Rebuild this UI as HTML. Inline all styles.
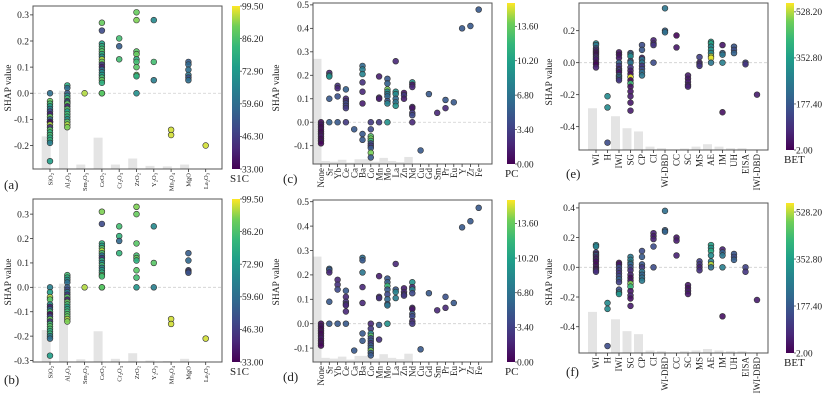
<!DOCTYPE html>
<html><head><meta charset="utf-8"><style>
body{margin:0;background:#fff}
svg{display:block;font-family:"Liberation Serif",serif}
</style></head><body>
<svg id="c" width="826" height="402" viewBox="0 0 826 402"></svg>
<script>
// ---------- DATA ----------
const oxCats = ["SiO|2","Al|2|O|3","Sm|2|O|3","CeO|2","Cr|2|O|3","ZrO|2","Y|2|O|3","Mn|3|O|4","MgO","La|2|O|3"];
const aY = [[0,-0.03,-0.04,-0.05,-0.06,-0.07,-0.08,-0.09,-0.1,-0.11,-0.11,-0.12,-0.13,-0.14,-0.15,-0.16,-0.17,-0.18,-0.19,-0.26],
 [0.03,0.02,0,-0.01,-0.02,-0.03,-0.035,-0.04,-0.05,-0.06,-0.07,-0.08,-0.09,-0.1,-0.11,-0.12,-0.13],
 [0],
 [0.27,0.24,0.19,0.18,0.17,0.16,0.15,0.14,0.13,0.12,0.11,0.1,0.09,0.08,0.07,0.06,0.05,0.04,0,0],
 [0.21,0.18,0.13],
 [0.31,0.28,0.16,0.15,0.13,0.12,0.1,0.07,0.065,0],
 [0.28,0.12,0.05],[-0.14,-0.16],[0.12,0.11,0.09,0.07,0.06,0.05],[-0.2]];
const aC = [[60,90,85,75,65,50,40,90,55,70,35,95,45,88,80,85,78,82,65,75],
 [80,60,55,70,85,45,60,90,40,88,75,85,80,70,90,95,92],
 [95],
 [90,50,75,80,85,88,80,70,95,90,45,40,60,70,75,85,90,80,90,88],
 [85,55,85],[90,92,88,90,80,85,88,90,80,70],[68,85,65],[97,97],[55,58,60,62,52,60],[97]];
const aBars = [-0.165,0.01,-0.273,-0.17,-0.273,-0.25,-0.278,-0.28,-0.273,-0.29];
const bY = [[0,-0.02,-0.04,-0.05,-0.07,-0.08,-0.09,-0.1,-0.11,-0.12,-0.13,-0.14,-0.15,-0.16,-0.17,-0.18,-0.19,-0.2,-0.21,-0.28],
 [0.05,0.04,0.03,0.02,0,-0.01,-0.02,-0.03,-0.04,-0.05,-0.06,-0.07,-0.08,-0.09,-0.1,-0.11,-0.12,-0.13,-0.14],
 [0],
 [0.31,0.26,0.18,0.17,0.16,0.15,0.14,0.13,0.12,0.11,0.1,0.09,0.08,0.07,0.06,0.05,0.045,0,0],
 [0.25,0.21,0.19,0.14],[0.33,0.3,0.18,0.13,0.12,0.11,0.07,0.04,0],[0.25,0.1,0],[-0.13,-0.15],[0.14,0.11,0.07,0.065,0.06],[-0.21]];
const bC = [[65,75,95,88,70,40,60,85,35,50,90,45,85,88,85,80,82,65,60,75],
 [85,80,70,60,55,50,65,45,88,40,90,85,75,80,85,88,90,95,92],
 [95],
 [92,50,80,75,88,95,85,60,45,80,70,85,65,75,80,90,85,90,88],
 [85,82,58,82],[92,90,88,85,90,80,88,85,72],[68,88,65],[97,97],[55,58,50,45,52],[97]];
const bBars = [-0.175,0.015,-0.295,-0.18,-0.293,-0.27,-0.3,-0.302,-0.293,-0.306];

const elCats = ["None","Sr","Yb","Ce","Ca","Ba","Co","Mn","Mo","La","Zn","Nd","Cu","Gd","Sm","Pr","Eu","Y","Zr","Fe"];
const cY = [[0,-0.01,-0.02,-0.03,-0.04,-0.05,-0.06,-0.07,-0.08,-0.09],
 [0.21,0.2,0.195,0.1,0],[0.155,0.145,0.11,0],[0.14,0.1,0.09,0.08,0.07,0.06,0],[-0.03],
 [0.24,0.225,0.205,0.17,0.13,0.08,-0.05,-0.075],
 [0,-0.03,-0.06,-0.07,-0.08,-0.09,-0.1,-0.11,-0.13,-0.15],
 [0.195,0.105,0.1,0],[0.185,0.165,0.14,0.13,0.12,0.11,0.09,0.08,0],
 [0.26,0.13,0.12,0.1,0.085,0.07],[0.125,0.115,0.1],
 [0.17,0.16,0.15,0.065,0.06,0.04,0.03,0],[-0.12],[0.12],[0.04],[0.095,0.06],[0.085],[0.4],[0.41],[0.48]];
const cC = [[0.5,1,0.3,0.8,0.2,0.6,1.2,0.4,0.7,0.3],
 [2,8,9,5,5.5],[2.5,2,4.5,5],[5.5,2,2.5,4,3.5,3,3],[5],
 [6,7.5,8,2.5,2,1.5,5,5],
 [3,4,13,14,12,4,3,5,14,5],
 [1.5,2,1.5,3],[5,5.5,14,9,7,6,5,8,9],
 [2,9,8.5,6,7,9],[1,3,1.5],
 [9,1,2,2,1,3,4,2],[5],[5],[2],[5,2],[5],[5],[5],[5]];
const cBars = [0.27,-0.165,-0.168,-0.16,-0.172,-0.158,-0.158,-0.168,-0.152,-0.165,-0.17,-0.148,-0.178,-0.178,-0.178,-0.178,-0.178,-0.178,-0.178,-0.178];
const dY = [[0,-0.01,-0.02,-0.03,-0.04,-0.05,-0.06,-0.07,-0.08,-0.09],
 [0.225,0.22,0.21,0.09,0],[0.18,0.16,0.14,0],[0.135,0.11,0.09,0.08,0.075,0.05,0],[-0.11],
 [0.27,0.26,0.21,0.15,0.085,-0.04,-0.07],
 [0,-0.02,-0.04,-0.05,-0.06,-0.07,-0.08,-0.09,-0.1,-0.11,-0.12,-0.13],
 [0.195,0.11,0.105,-0.005,-0.065],[0.185,0.17,0.155,0.14,0.12,0.1,0.08,0.075,0],
 [0.245,0.14,0.13,0.105],[0.145,0.13,0.12,0.115],
 [0.17,0.15,0.14,0.125,0.065,0.06,0.04,0.03,0.01,0],[-0.105],[0.125],[0.055],[0.11,0.065],[0.085],[0.395],[0.42],[0.475]];
const dC = [[0.5,1,0.3,0.8,0.2,0.6,1.2,0.4,0.7,0.3],
 [6,5,2,5,5],[2,2.5,4,5],[5,2,2.5,3.5,2,2,5],[5],
 [6.5,5,7,2,2,5,5],
 [2,3,8,13,4,5,3,5,6,14,5,5],
 [1.5,2,2.5,5,2.5],[5,5.5,12,5,4,6,5,7,9],
 [2,5,8,7.5],[1.5,2,2.5,3],
 [9,2,8,4,2,1,5,4,2,3],[5],[5],[2],[4.5,2],[5],[5],[5],[5]];
const dBars = [0.275,-0.14,-0.143,-0.135,-0.147,-0.132,-0.132,-0.143,-0.125,-0.14,-0.145,-0.123,-0.157,-0.157,-0.157,-0.157,-0.157,-0.157,-0.157,-0.157];

const mCats = ["WI","H","IWI","SG","CP","CI","WI-DBD","CC","SC","MS","AE","IM","UH","EISA","IWI-DBD"];
const eY = [[0.12,0.11,0.09,0.08,0.07,0.06,0.05,0.04,0.03,0.02,0,-0.01,-0.03],
 [-0.21,-0.28,-0.5],
 [0.065,0.05,0.03,0,-0.02,-0.04,-0.05,-0.06,-0.08,-0.09,-0.1,-0.11],
 [0.06,0.05,0.04,0.01,0,-0.03,-0.05,-0.07,-0.09,-0.11,-0.13,-0.15,-0.18,-0.21,-0.25,-0.3],
 [0.11,0.08,0.03,0.02,0,-0.02,-0.04,-0.06,-0.08],
 [0.14,0.12,0.11,0],[0.34,0.2,0.19],[0.17,0.095],
 [-0.08,-0.1,-0.12,-0.14,-0.15],[0.035,0,-0.01,-0.02],
 [0.13,0.12,0.1,0.08,0.06,0.04,0.03,0],[0.11,0.06,0.05,0,-0.31],[0.1,0.08,0.06],[0,-0.01],[-0.2]];
const eC = [[300,250,150,100,50,30,20,60,100,50,20,10,60],[300,300,150],
 [40,30,40,200,100,60,150,30,200,250,200,100],
 [170,250,300,150,250,100,50,20,550,10,430,30,40,50,40,50],
 [150,170,40,230,250,100,150,230,250],[60,70,100,150],[250,200,230],[10,40],
 [50,40,50,50,60],[120,60,80,100],[350,370,300,330,300,530,550,250],[40,200,250,270,30],[170,150,200],[130,100],[50]];
const eBars = [-0.285,-0.546,-0.335,-0.41,-0.43,-0.525,-0.535,-0.546,-0.537,-0.525,-0.51,-0.525,-0.535,-0.535,-0.546];
const fY = [[0.15,0.14,0.1,0.09,0.08,0.07,0.06,0.05,0.04,0.02,0,-0.01,-0.02,-0.03],
 [-0.24,-0.28,-0.53],
 [0.03,0.02,0,-0.02,-0.04,-0.06,-0.08,-0.1,-0.15,-0.17,-0.18],
 [0.07,0.05,0.03,0.02,0,-0.02,-0.05,-0.07,-0.09,-0.11,-0.13,-0.16,-0.19,-0.21,-0.26],
 [0.11,0.07,0.02,0,-0.03,-0.05,-0.07,-0.09],
 [0.23,0.21,0.19,0.14,0],[0.38,0.25,0.24],[0.2,0.18,0.08],
 [-0.12,-0.14,-0.16,-0.18],[0.04,0.02,0,-0.02],
 [0.15,0.13,0.11,0.08,0.04,0.02,0],[0.12,0.1,0.08,0,-0.33],[0.09,0.07,0.05],[0,-0.03],[-0.22]];
const fC = [[300,280,120,60,200,80,40,100,30,20,60,10,70,90],[300,300,150],
 [20,40,150,120,100,150,200,120,150,300,330],
 [250,270,300,200,150,80,60,20,40,500,420,40,60,30,50],
 [150,180,170,110,250,200,230,260],[60,50,60,150,150],[230,190,200],[40,50,60],
 [40,30,50,40],[120,100,60,90],[360,330,380,300,280,530,230],[60,200,250,270,30],[170,150,190],[130,100],[50]];
const fBars = [-0.3,-0.577,-0.35,-0.43,-0.45,-0.56,-0.565,-0.577,-0.565,-0.56,-0.55,-0.56,-0.565,-0.565,-0.577];

// ---------- DRAWING ----------
const svg = document.getElementById('c');
const NS = 'http://www.w3.org/2000/svg';
function mk(tag, attrs, parent){const e=document.createElementNS(NS,tag);for(const k in attrs)e.setAttribute(k,attrs[k]);(parent||svg).appendChild(e);return e;}
const VS=[[0,'#440154'],[.125,'#482878'],[.25,'#3e4989'],[.375,'#31688e'],[.5,'#26828e'],[.625,'#1f9e89'],[.75,'#35b779'],[.875,'#6ece58'],[1,'#fde725']];
function hx(h){return [1,3,5].map(i=>parseInt(h.substr(i,2),16));}
function viridis(t){t=Math.max(0,Math.min(1,t));for(let i=1;i<VS.length;i++){if(t<=VS[i][0]){const a=VS[i-1],b=VS[i],u=(t-a[0])/(b[0]-a[0]);const ca=hx(a[1]),cb=hx(b[1]);return 'rgb('+ca.map((v,j)=>Math.round(v+(cb[j]-v)*u)).join(',')+')';}}return VS[8][1];}

function panel(p){
  const g=mk('g',{});
  
  
  const ys=v=>p.top+(p.ymax-v)/(p.ymax-p.ymin)*(p.bot-p.top);
  const xs=i=>p.x0+i*p.step;
  p.bars.forEach((v,i)=>{const y=ys(v);if(p.bot-y<0.5)return;
    const r=mk('rect',{x:xs(i)+p.bOff,y:y,width:p.bW,height:p.bot-y,fill:'#e4e4e4'},g);
    
    });
  const z=mk('line',{x1:p.left,x2:p.right,y1:ys(0),y2:ys(0),stroke:'#cfcfcf','stroke-width':0.8,'stroke-dasharray':'3,2'},g);
  
  
  p.ys.forEach((arr,i)=>arr.forEach((v,j)=>{
    const c=mk('circle',{cx:xs(i),cy:ys(v),r:2.9,fill:viridis((p.cs[i][j]-p.cmin)/(p.cmax-p.cmin)),stroke:'#333','stroke-width':0.6,'fill-opacity':0.9},g);
    
    }));
  const f=mk('rect',{x:p.left,y:p.top,width:p.right-p.left,height:p.bot-p.top,fill:'none',stroke:'#555','stroke-width':1},g);
  
  
  p.yt.forEach(v=>{const y=ys(v);
    mk('line',{x1:p.left-3,x2:p.left,y1:y,y2:y,stroke:'#333','stroke-width':0.8},g);
    const t=mk('text',{x:p.left-4,y:y+3.3,'font-size':9.5,'text-anchor':'end',fill:'#222'},g);
    t.textContent=v.toFixed(1);
    
    });
  p.cats.forEach((c,i)=>{const x=xs(i);
    mk('line',{x1:x,x2:x,y1:p.bot,y2:p.bot+3,stroke:'#333','stroke-width':0.8},g);
    const t=mk('text',{x:x+p.xfs*0.35,y:p.bot+4,'font-size':p.xfs,'text-anchor':'end',fill:'#222',transform:'rotate(-90 '+(x+p.xfs*0.35)+' '+(p.bot+4)+')'},g);
    const parts=c.split('|');
    parts.forEach((s,k)=>{const ts=mk('tspan',k%2?{'font-size':p.xfs*0.7,'dy':1.5}:(k>0?{'dy':-1.5}:{}),t);ts.textContent=s;});
    
    });
  const gid='grad'+p.id;
  const lg=mk('linearGradient',{id:gid,x1:0,y1:1,x2:0,y2:0},mk('defs',{},g));
  VS.forEach(s=>mk('stop',{offset:s[0],'stop-color':s[1]},lg));
  const cb=mk('rect',{x:p.cbx,y:p.top,width:8,height:p.bot-p.top,fill:'url(#'+gid+')'},g);
  
  
  const cys=v=>p.bot-(v-p.cmin)/(p.cmax-p.cmin)*(p.bot-p.top);
  p.ct.forEach(v=>{const y=cys(v);
    mk('line',{x1:p.cbx+8,x2:p.cbx+10,y1:y,y2:y,stroke:'#333','stroke-width':0.7},g);
    const t=mk('text',{x:p.cbx+10,y:y+3.3,'font-size':9.5,fill:'#222'},g);
    t.textContent=v.toFixed(2);
    
    });
  const cl=mk('text',{x:p.cbx-2,y:p.bot+13,'font-size':11,fill:'#222'},g);
  cl.textContent=p.clabel;
  
  
  const pl=mk('text',{x:p.lx,y:p.ly,'font-size':13,fill:'#222'},g);
  pl.textContent='('+p.id+')';
  
  
}
function vlabel(x,y){const t=mk('text',{x:x,y:y,'font-size':9.5,'text-anchor':'middle',fill:'#222',transform:'rotate(-90 '+x+' '+y+')'});t.textContent='SHAP value';
  
  }

panel({id:'a',left:33,right:222,top:6,bot:169,ymin:-0.29,ymax:0.334,x0:50,step:17.3,bOff:-8.3,bW:9,cats:oxCats,ys:aY,cs:aC,bars:aBars,yt:[0.3,0.2,0.1,0,-0.1,-0.2],xfs:6.5,cbx:232,cmin:33,cmax:99.5,ct:[99.5,86.2,72.9,59.6,46.3,33],clabel:'S1C',lx:4,ly:189});
panel({id:'b',left:33,right:222,top:199,bot:362,ymin:-0.306,ymax:0.362,x0:50,step:17.3,bOff:-8.3,bW:9,cats:oxCats,ys:bY,cs:bC,bars:bBars,yt:[0.3,0.2,0.1,0,-0.1,-0.2,-0.3],xfs:6.5,cbx:232,cmin:33,cmax:99.5,ct:[99.5,86.2,72.9,59.6,46.3,33],clabel:'S1C',lx:4,ly:384});
panel({id:'c',left:313,right:492,top:3,bot:164,ymin:-0.178,ymax:0.508,x0:321,step:8.3,bOff:-8,bW:8.5,cats:elCats,ys:cY,cs:cC,bars:cBars,yt:[0.5,0.4,0.3,0.2,0.1,0,-0.1],xfs:9,cbx:507,cmin:0,cmax:15.9,ct:[13.6,10.2,6.8,3.4,0],clabel:'PC',lx:283,ly:183});
panel({id:'d',left:313,right:492,top:200,bot:362,ymin:-0.157,ymax:0.507,x0:321,step:8.3,bOff:-8,bW:8.5,cats:elCats,ys:dY,cs:dC,bars:dBars,yt:[0.5,0.4,0.3,0.2,0.1,0,-0.1],xfs:9,cbx:507,cmin:0,cmax:15.9,ct:[13.6,10.2,6.8,3.4,0],clabel:'PC',lx:283,ly:381});
panel({id:'e',left:579,right:768,top:3,bot:150,ymin:-0.546,ymax:0.373,x0:596,step:11.5,bOff:-8,bW:9,cats:mCats,ys:eY,cs:eC,bars:eBars,yt:[0.2,0,-0.2,-0.4],xfs:9,cbx:786,cmin:2,cmax:562,ct:[528.2,352.8,177.4,2],clabel:'BET',lx:566,ly:178});
panel({id:'f',left:579,right:768,top:203,bot:353,ymin:-0.577,ymax:0.433,x0:596,step:11.5,bOff:-8,bW:9,cats:mCats,ys:fY,cs:fC,bars:fBars,yt:[0.4,0.2,0,-0.2,-0.4],xfs:9,cbx:786,cmin:2,cmax:562,ct:[528.2,352.8,177.4,2],clabel:'BET',lx:566,ly:376});
vlabel(11,88);vlabel(11,282);vlabel(279,88);vlabel(279,282);vlabel(552,82);vlabel(552,282);
</script>
</body></html>
